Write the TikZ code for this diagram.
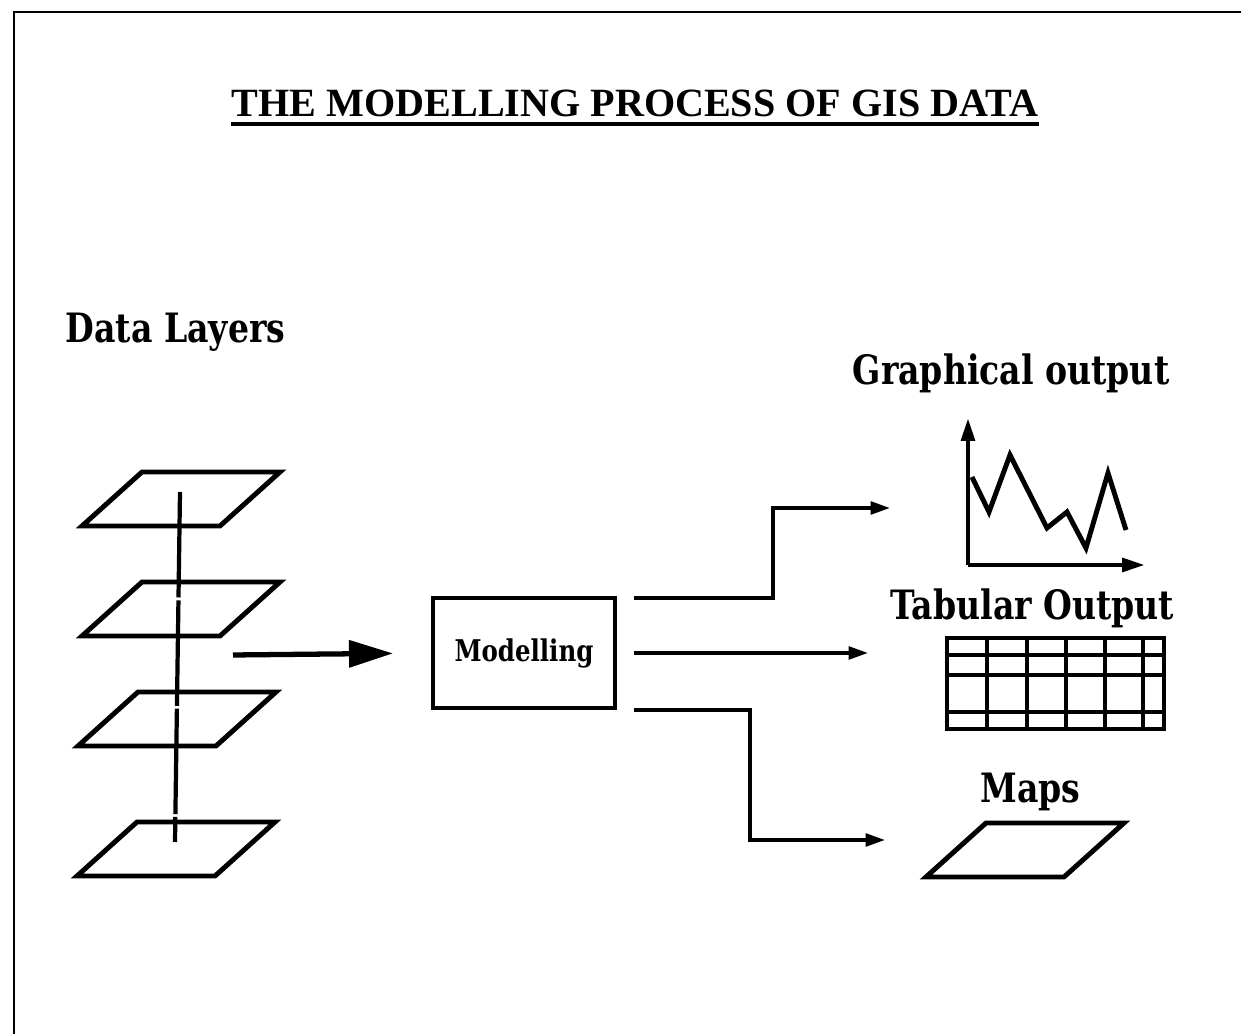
\documentclass[tikz,border=0pt]{standalone}
\usepackage{fontspec}
\newfontfamily\titlefont{Liberation Serif}
\newfontfamily\labelfont{DejaVu Serif Condensed}[FakeStretch=0.91]
\usetikzlibrary{arrows.meta, positioning}
\tikzset{
	sheet/.pic={\draw[line width=1.4pt] (60,0) -- (198,0) -- (138,54) -- (0,54) -- cycle;},
	outlabel/.style={font=\labelfont\bfseries\fontsize{11.5}{14}\selectfont, inner sep=0pt, anchor=base west},
	modelbox/.style={rectangle, draw, line width=1.1pt, minimum width=1.82cm, minimum height=1.1cm, font=\labelfont\bfseries\fontsize{8.5}{10}\selectfont},
	bigarrow/.style={draw, line width=1.5pt, -{Triangle[length=12.5pt, width=7.5pt]}},
	outarrow/.style={draw, line width=1pt, -{Triangle[length=5.5pt, width=3.6pt]}},
	axisline/.style={draw, line width=1.3pt, -{Triangle[length=6.5pt, width=3.8pt]}}
}
\begin{document}
\begin{tikzpicture}[x=0.01cm, y=-0.01cm, line join=miter]
	\useasboundingbox (0,0) rectangle (1241,1034);
	% frame of the scanned page
	\draw[line width=0.6pt] (14,1100) -- (14,12) -- (1300,12);

	% Title
	\node[font=\titlefont\bfseries\fontsize{11.4}{14}\selectfont, inner sep=0pt, anchor=base] (title) at (635,117) {THE MODELLING PROCESS OF GIS DATA};
	\draw[line width=1.1pt] ([yshift=-0.07cm]title.base west) -- ([yshift=-0.07cm]title.base east);

	% Data layers
	\node[outlabel] (layers) at (65,343) {Data Layers};
	\foreach \x/\y in {82/472, 82/582, 78/692, 77/822}
		\pic at (\x,\y) {sheet};
	\coordinate (stacktop) at (180,492);
	\coordinate (stackbot) at (175,842);
	\draw[line width=1.2pt, dash pattern=on 30pt off 0.8pt] (stacktop) -- (stackbot);

	% Modelling block
	\node[modelbox] (model) at (524,653) {Modelling};
	\coordinate (stack) at (233,655);
	\path[bigarrow, shorten >=0.38cm] (stack) -- (model.west);

	% Outputs
	\coordinate (graphin) at (890,508);
	\coordinate (tablein) at (868,653);
	\coordinate (mapsin) at (885,840);
	\coordinate (upbend) at (773,508);
	\coordinate (downbend) at (750,840);
	\path[outarrow, shorten <=0.17cm] ([yshift=-0.02cm]model.north east) -| (upbend) -- (graphin);
	\path[outarrow, shorten <=0.17cm] (model.east) -- (tablein);
	\path[outarrow, shorten <=0.17cm] (model.south east) -| (downbend) -- (mapsin);

	% Graphical output
	\node[outlabel] (graphlabel) at (852,385) {Graphical output};
	\coordinate (origin) at (968,565);
	\path[axisline] (origin) -- (968,418);
	\path[axisline] (origin) -- (1145,565);
	\draw[line width=1.4pt] plot coordinates {(972,477) (989,512) (1010,455) (1047,528) (1067,512) (1086,548) (1108,473) (1126,530)};

	% Tabular output
	\node[outlabel] (tablelabel) at (890,620) {Tabular Output};
	\draw[line width=1.4pt] (947,638) rectangle (1164,729);
	\foreach \y in {655,675,712}
		\draw[line width=1.2pt] (947,\y) -- (1164,\y);
	\foreach \x in {987,1027,1066,1105,1143}
		\draw[line width=1.2pt] (\x,638) -- (\x,729);

	% Maps
	\node[outlabel] (mapslabel) at (980,803) {Maps};
	\pic at (926,823) {sheet};
\end{tikzpicture}
\end{document}
